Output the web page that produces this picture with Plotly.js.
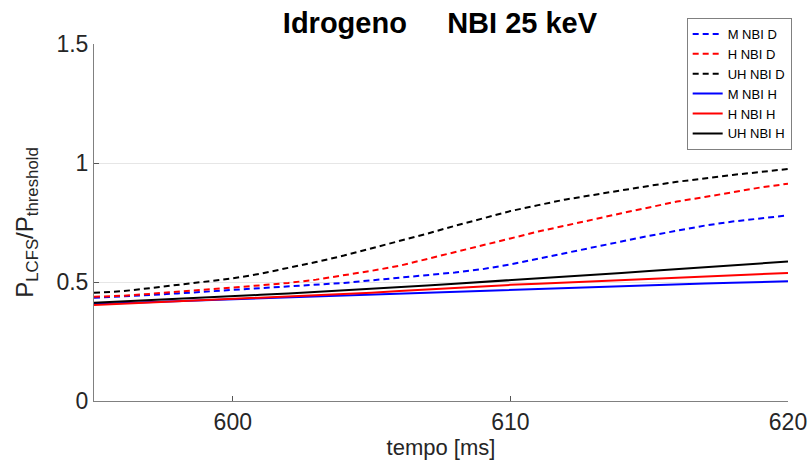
<!DOCTYPE html>
<html>
<head>
<meta charset="utf-8">
<script src="https://cdn.plot.ly/plotly-3.0.1.min.js"></script>
<style>
  html, body { margin: 0; padding: 0; background: #fff; }
  #chart { width: 811px; height: 461px; }
</style>
</head>
<body>
<div id="chart"></div>
<script>
// Time axis [ms]
const tempo = [595, 596, 597, 598, 599, 600, 601, 602, 603, 604, 605, 606, 607,
               608, 609, 610, 611, 612, 613, 614, 615, 616, 617, 618, 619, 620];

// P_LCFS / P_threshold, deuterium NBI (dashed)
const M_NBI_D  = [0.434, 0.438, 0.445, 0.452, 0.459, 0.466, 0.473, 0.479, 0.487, 0.496, 0.507, 0.518, 0.528,
                  0.540, 0.554, 0.574, 0.598, 0.621, 0.646, 0.670, 0.694, 0.717, 0.737, 0.754, 0.768, 0.780];
const H_NBI_D  = [0.438, 0.442, 0.450, 0.458, 0.467, 0.477, 0.486, 0.496, 0.510, 0.527, 0.547, 0.568, 0.596,
                  0.625, 0.653, 0.683, 0.712, 0.739, 0.763, 0.789, 0.813, 0.838, 0.857, 0.878, 0.897, 0.913];
const UH_NBI_D = [0.455, 0.461, 0.474, 0.487, 0.501, 0.515, 0.535, 0.559, 0.584, 0.611, 0.641, 0.670, 0.703,
                  0.736, 0.768, 0.798, 0.823, 0.847, 0.866, 0.886, 0.904, 0.921, 0.937, 0.950, 0.962, 0.975];

// P_LCFS / P_threshold, hydrogen NBI (solid)
const M_NBI_H  = [0.408, 0.412, 0.416, 0.420, 0.424, 0.428, 0.432, 0.436, 0.440, 0.444, 0.448, 0.452, 0.456,
                  0.460, 0.464, 0.468, 0.472, 0.476, 0.480, 0.484, 0.487, 0.491, 0.494, 0.497, 0.500, 0.503];
const H_NBI_H  = [0.403, 0.408, 0.413, 0.418, 0.423, 0.428, 0.433, 0.438, 0.443, 0.449, 0.455, 0.462, 0.469,
                  0.476, 0.482, 0.488, 0.493, 0.498, 0.503, 0.509, 0.514, 0.519, 0.524, 0.529, 0.533, 0.538];
const UH_NBI_H = [0.413, 0.418, 0.423, 0.429, 0.434, 0.440, 0.446, 0.452, 0.458, 0.464, 0.470, 0.477, 0.485,
                  0.493, 0.500, 0.507, 0.515, 0.523, 0.531, 0.538, 0.546, 0.554, 0.562, 0.570, 0.578, 0.586];

const xTicks = [600, 610, 620];
const yTicks = [0, 0.5, 1, 1.5];
const yTickText = ['0', '0.5', '1', '1.5'];

const FONT = 'Liberation Sans, Arial, Helvetica, sans-serif';
const DASH = '6px,4px';

function trace(name, y, color, dash) {
  return {
    x: tempo, y: y, name: name, type: 'scatter', mode: 'lines',
    line: { color: color, width: 2, dash: dash }
  };
}

const data = [
  trace('M NBI D',  M_NBI_D,  '#0000ff', DASH),
  trace('H NBI D',  H_NBI_D,  '#ff0000', DASH),
  trace('UH NBI D', UH_NBI_D, '#000000', DASH),
  trace('M NBI H',  M_NBI_H,  '#0000ff', 'solid'),
  trace('H NBI H',  H_NBI_H,  '#ff0000', 'solid'),
  trace('UH NBI H', UH_NBI_H, '#000000', 'solid')
];

const layout = {
  width: 811, height: 461,
  margin: { l: 94, r: 23, t: 44, b: 60 },
  paper_bgcolor: '#ffffff', plot_bgcolor: '#ffffff',
  font: { family: FONT, color: '#262626' },
  showlegend: true,
  title: {
    text: '<b>Idrogeno     NBI 25 keV</b>',
    font: { family: FONT, size: 29, color: '#000000' },
    x: 0.5425, xanchor: 'center', y: 0.95, yanchor: 'middle'
  },
  xaxis: {
    range: [595, 620],
    tickvals: xTicks, ticktext: xTicks.map(String),
    ticks: 'inside', ticklen: 5, tickcolor: '#555',
    showline: true, linecolor: '#808080', linewidth: 1,
    showgrid: false, zeroline: false,
    tickfont: { size: 23, color: '#262626' },
    title: { text: 'tempo [ms]', font: { size: 22, color: '#262626' }, standoff: 0 }
  },
  yaxis: {
    range: [0, 1.5],
    tickvals: yTicks, ticktext: yTickText,
    ticks: 'inside', ticklen: 5, tickcolor: '#555',
    showline: true, linecolor: '#808080', linewidth: 1,
    showgrid: true, gridcolor: '#e6e6e6', gridwidth: 1,
    zeroline: false,
    tickfont: { size: 23, color: '#262626' },
    title: {
      text: 'P<sub>LCFS</sub>/P<sub>threshold</sub>',
      font: { size: 24, color: '#262626' }, standoff: 16
    }
  },
  legend: {
    x: 0.854, y: 1.073, xanchor: 'left', yanchor: 'top',
    bgcolor: '#ffffff', bordercolor: '#808080', borderwidth: 1,
    font: { family: FONT, size: 13, color: '#000000' },
    itemwidth: 30, tracegroupgap: 0
  }
};

Plotly.newPlot('chart', data, layout, { displayModeBar: false, staticPlot: true });
</script>
</body>
</html>
